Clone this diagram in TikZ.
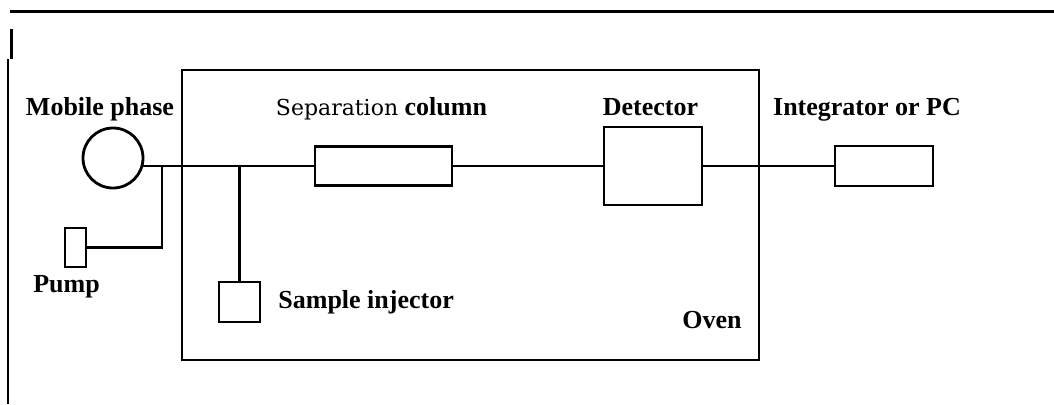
\documentclass[tikz,border=0pt]{standalone}
\usepackage{fontspec}
\setmainfont{Liberation Serif}
\newfontfamily\sepfont{DejaVu Serif}
\usepackage{tikz}
\usetikzlibrary{calc, positioning}

\begin{document}
\begin{tikzpicture}[x=0.5pt,y=-0.5pt]
  \tikzset{box/.style={draw,line width=1.4pt,inner sep=0,outer sep=0},
    lbl/.style={inner sep=0,font=\fontsize{13}{15}\selectfont\bfseries},
    pipe/.style={line width=1.1pt}}
  \useasboundingbox (0,0) rectangle (1054,404);
  \draw[line width=1.5pt] (10,11) -- (1054,11);
  \draw[line width=1.5pt] (11,29) -- (11,59);
  \draw[line width=1pt] (8,59) -- (8,404);
  \node(oven)[draw,line width=1pt,inner sep=0,minimum width=288.5pt,minimum height=145pt] at (470.5,215) {};
  \node(mp)[box,circle,minimum size=30pt] at (113,158) {};
  \node(pump)[box,line width=1pt,minimum width=10.5pt,minimum height=19.5pt] at (75.5,247.5) {};
  \node(col)[box,minimum width=68.5pt,minimum height=19.5pt] at (383.5,166) {};
  \node(inj)[box,minimum width=20.5pt,minimum height=20pt] at (239.5,302) {};
  \node(det)[box,minimum width=49pt,minimum height=39pt] at (653,166) {};
  \node(int)[box,minimum width=49pt,minimum height=20pt] at (884,166) {};
  \coordinate(j) at (162,166);
  \draw[pipe] (mp.-15) -- (col.west |- mp.-15);
  \draw[pipe] (pump.east) -| (j);
  \draw[pipe] (inj.north) -- (inj.north |- col.west);
  \draw[line width=0.6pt] (col.east) -- (det.west);
  \draw[pipe] (det.east) -- (int.west);
  \node[lbl,anchor=base] at (100,115) {Mobile phase};
  \node[lbl,anchor=base] at (381.5,115) {{\sepfont\mdseries\fontsize{11}{13}\selectfont Separation} column};
  \node[lbl,anchor=base] at (650.5,115) {Detector};
  \node[lbl,anchor=base] at (867,115) {Integrator or PC};
  \node[lbl,anchor=base] at (66.5,292) {Pump};
  \node[lbl,anchor=base west] at (278,308) {Sample injector};
  \node[lbl,anchor=base] at (712,328) {Oven};
\end{tikzpicture}
\end{document}
